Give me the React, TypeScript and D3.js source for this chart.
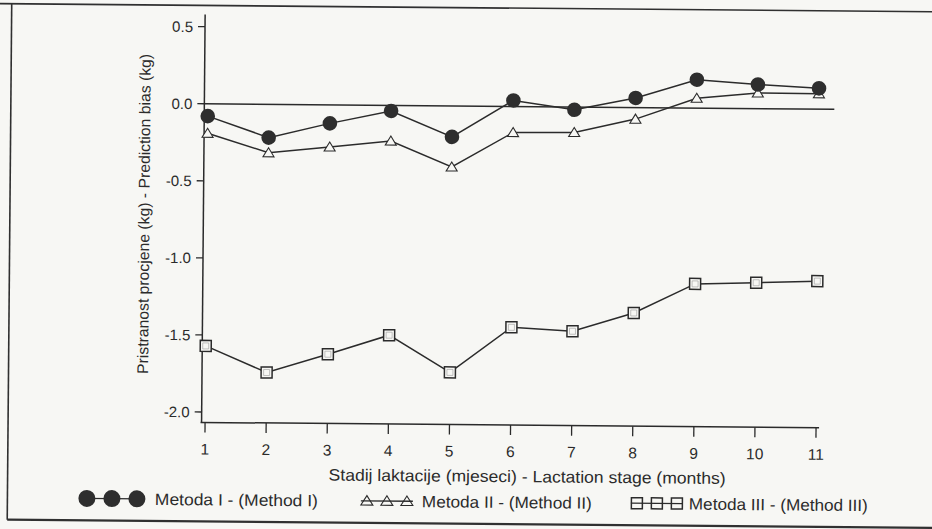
import * as React from "react"
import * as d3 from "d3"

const WIDTH = 932
const HEIGHT = 529

const months = [1, 2, 3, 4, 5, 6, 7, 8, 9, 10, 11]
const method1 = [-0.08, -0.216, -0.12, -0.036, -0.201, 0.039, -0.018, 0.062, 0.184, 0.156, 0.135]
const method2 = [-0.191, -0.314, -0.273, -0.231, -0.396, -0.169, -0.165, -0.075, 0.064, 0.102, 0.1]
const method3 = [-1.571, -1.74, -1.618, -1.491, -1.729, -1.433, -1.455, -1.333, -1.141, -1.13, -1.116]
const yTicks = [0.5, 0.0, -0.5, -1.0, -1.5, -2.0]
const legendLabels = ["Metoda I - (Method I)", "Metoda II - (Method II)", "Metoda III - (Method III)"]

const INK = "#2b2b2b"
const PAPER = "#f7f7f4"
const FONT = "'Liberation Sans', Arial, sans-serif"

export default function App() {
  const svgRef = React.useRef<SVGSVGElement>(null)

  React.useEffect(() => {
    const svg = d3.select(svgRef.current)
    svg.selectAll("*").remove()

    svg.append("rect").attr("width", WIDTH).attr("height", HEIGHT).attr("fill", PAPER)

    // the scanned page is a bit skewed, so everything sits in a slightly rotated group
    const root = svg.append("g").attr("transform", "rotate(0.5,500,260)")

    const x = d3.scaleLinear().domain([1, 11]).range([206.5, 817.5])
    const y = d3.scaleLinear().domain([-2, 0.5]).range([414.6, 29.3])

    // page frame
    const frame = root.append("g").attr("stroke", "#303030").attr("fill", "none")
    frame.append("line").attr("x1", -10).attr("x2", WIDTH + 10).attr("y1", 8).attr("y2", 8).attr("stroke-width", 1.6)
    frame.append("line").attr("x1", 9.5).attr("x2", 9.5).attr("y1", 8).attr("y2", 524).attr("stroke-width", 1.6)
    frame.append("line").attr("x1", 9.5).attr("x2", WIDTH + 10).attr("y1", 524).attr("y2", 524).attr("stroke-width", 2.2)

    // y axis
    const axisX = 203
    const axisBottom = 425
    root.append("line").attr("x1", axisX).attr("x2", axisX).attr("y1", 17).attr("y2", axisBottom)
      .attr("stroke", INK).attr("stroke-width", 1.5)
    const yt = root.selectAll(".ytick").data(yTicks).enter().append("g")
      .attr("transform", d => `translate(0,${y(d)})`)
    yt.append("line").attr("x1", axisX - 7).attr("x2", axisX).attr("stroke", INK).attr("stroke-width", 1.3)
    yt.append("text").attr("x", 191).attr("dy", "0.36em").attr("text-anchor", "end")
      .attr("font-family", FONT).attr("font-size", 15).attr("fill", INK)
      .text(d => d.toFixed(1))

    // x axis
    root.append("line").attr("x1", axisX - 1).attr("x2", x(11) + 3).attr("y1", axisBottom).attr("y2", axisBottom)
      .attr("stroke", INK).attr("stroke-width", 1.5)
    const xt = root.selectAll(".xtick").data(months).enter().append("g")
      .attr("transform", d => `translate(${x(d)},0)`)
    xt.append("line").attr("y1", axisBottom).attr("y2", axisBottom + 10).attr("stroke", INK).attr("stroke-width", 1.3)
    xt.append("text").attr("y", axisBottom + 32).attr("text-anchor", "middle")
      .attr("font-family", FONT).attr("font-size", 15.5).attr("fill", INK)
      .text(d => d)

    // axis titles
    root.append("text").attr("x", 529).attr("y", 482).attr("text-anchor", "middle")
      .attr("font-family", FONT).attr("font-size", 16.5).attr("fill", INK)
      .attr("textLength", 397).attr("lengthAdjust", "spacingAndGlyphs")
      .text("Stadij laktacije (mjeseci) - Lactation stage (months)")
    root.append("text").attr("transform", "translate(149,217) rotate(-90)").attr("text-anchor", "middle")
      .attr("font-family", FONT).attr("font-size", 15.5).attr("fill", INK)
      .attr("textLength", 320).attr("lengthAdjust", "spacingAndGlyphs")
      .text("Pristranost procjene (kg) - Prediction bias (kg)")

    // zero reference line
    root.append("line").attr("x1", axisX).attr("x2", 833).attr("y1", y(0)).attr("y2", y(0))
      .attr("stroke", INK).attr("stroke-width", 1.5)

    const line = d3.line<number>().x((_, i) => x(months[i])).y(d => y(d))

    const drawMarker = (g: any, shape: string, cx: number, cy: number, big = false) => {
      if (shape === "circle") {
        g.append("circle").attr("cx", cx).attr("cy", cy).attr("r", big ? 8.5 : 7.3).attr("fill", "#2e2e2e")
      } else if (shape === "triangle") {
        const w = big ? 6 : 5.5
        const h = big ? 9.5 : 9
        g.append("path")
          .attr("d", `M${cx},${cy - h * 0.55}L${cx + w},${cy + h * 0.45}L${cx - w},${cy + h * 0.45}Z`)
          .attr("fill", big ? "none" : PAPER).attr("stroke", INK).attr("stroke-width", 1.1)
      } else {
        const s = 11
        g.append("rect").attr("x", cx - s / 2).attr("y", cy - s / 2).attr("width", s).attr("height", s)
          .attr("fill", big ? "none" : PAPER).attr("stroke", INK).attr("stroke-width", 1.5)
        if (!big) {
          g.append("rect").attr("x", cx - 3).attr("y", cy - 3).attr("width", 6).attr("height", 6)
            .attr("fill", "none").attr("stroke", "#9a9a9a").attr("stroke-width", 0.6)
        }
      }
    }

    const series = [
      { values: method3, shape: "square" },
      { values: method2, shape: "triangle" },
      { values: method1, shape: "circle" },
    ]

    series.forEach(s => {
      root.append("path").datum(s.values).attr("d", line).attr("fill", "none")
        .attr("stroke", INK).attr("stroke-width", 1.5)
      const g = root.append("g")
      s.values.forEach((v, i) => drawMarker(g, s.shape, x(months[i]), y(v)))
    })

    // legend
    const legend = [
      { label: legendLabels[0], shape: "circle", x0: 89, step: 25, tx: 157, tw: 163 },
      { label: legendLabels[1], shape: "triangle", x0: 369, step: 20, tx: 424, tw: 170 },
      { label: legendLabels[2], shape: "square", x0: 639, step: 20, tx: 691, tw: 179 },
    ]
    const ly = 502
    legend.forEach(l => {
      const g = root.append("g")
      g.append("line").attr("x1", l.x0 - 6).attr("x2", l.x0 + 2 * l.step + 6).attr("y1", ly).attr("y2", ly)
        .attr("stroke", INK).attr("stroke-width", 1.3)
      for (let k = 0; k < 3; k++) drawMarker(g, l.shape, l.x0 + k * l.step, ly, true)
      g.append("text").attr("x", l.tx).attr("y", ly).attr("dy", "0.36em")
        .attr("font-family", FONT).attr("font-size", 16.5).attr("fill", INK)
        .attr("textLength", l.tw).attr("lengthAdjust", "spacingAndGlyphs")
        .text(l.label)
    })
  }, [])

  return (
    <svg ref={svgRef} width={WIDTH} height={HEIGHT}
      style={{ position: "absolute", left: 0, top: 0, display: "block" }} />
  )
}
